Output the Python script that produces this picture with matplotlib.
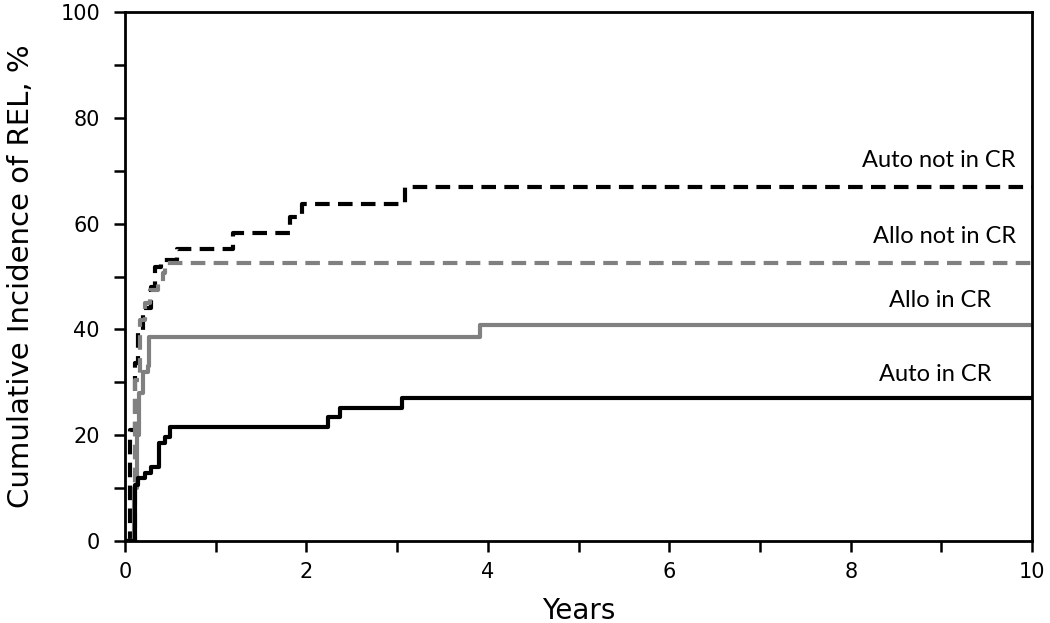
import numpy as np
import matplotlib.pyplot as plt

# step curves (years, cumulative incidence %)
auto_cr_t = [0, 0.06, 0.11, 0.14, 0.22, 0.29, 0.37, 0.44, 0.50, 2.24, 2.37, 3.05, 10]
auto_cr_y = [0, 0, 10.6, 11.9, 12.8, 14.0, 18.5, 19.7, 21.6, 23.5, 25.1, 27.0, 27.0]

allo_cr_t = [0, 0.08, 0.10, 0.13, 0.16, 0.20, 0.25, 0.27, 3.91, 10]
allo_cr_y = [0, 0, 10, 20, 28, 32, 33, 38.6, 40.8, 40.8]

allo_ncr_t = [0, 0.05, 0.11, 0.165, 0.22, 0.28, 0.36, 0.42, 0.44, 10]
allo_ncr_y = [0, 0, 30.4, 41.8, 45.0, 47.4, 48.7, 50.6, 52.5, 52.5]

auto_ncr_t = [0, 0.02, 0.055, 0.11, 0.14, 0.20, 0.29, 0.33, 0.40, 0.57, 1.19, 1.82, 1.95, 3.09, 10]
auto_ncr_y = [0, 0, 21.0, 33.6, 39.8, 44.0, 48.0, 51.9, 53.1, 55.3, 58.2, 61.3, 63.8, 66.9, 66.9]

labels = ["Auto not in CR", "Allo not in CR", "Allo in CR", "Auto in CR"]

fig = plt.figure(figsize=(10.5, 6.23), dpi=100)
ax = fig.add_axes([0.119, 0.1316, 0.864, 0.849])

ax.step(auto_ncr_t, auto_ncr_y, where='post', color='black', lw=3, ls=(0, (3.5, 2)))
ax.step(allo_ncr_t, allo_ncr_y, where='post', color='#808080', lw=3, ls=(0, (3.5, 2)))
ax.step(allo_cr_t, allo_cr_y, where='post', color='#808080', lw=3)
ax.step(auto_cr_t, auto_cr_y, where='post', color='black', lw=3)

# curve labels at the right
lab_pos = [(9.82, 72), (9.82, 57.5), (9.55, 45.5), (9.55, 31.5)]
for txt, (x, y) in zip(labels, lab_pos):
    ax.text(x, y, txt, ha='right', va='center', fontsize=17, family='Lato')

ax.set_xlim(0, 10)
ax.set_ylim(0, 100)
ax.set_xticks(np.arange(0, 11, 2))
ax.set_xticks(np.arange(0, 11, 1), minor=True)
ax.set_yticks(np.arange(0, 101, 20))
ax.set_yticks(np.arange(0, 101, 10), minor=True)
ax.tick_params(which='both', direction='out', width=1.8, length=8, labelsize=15)
ax.tick_params(axis='x', which='both', pad=7)
ax.tick_params(axis='y', which='both', pad=10)
for s in ax.spines.values():
    s.set_linewidth(2)

ax.set_xlabel("Years", fontsize=20, labelpad=11)
ax.set_ylabel("Cumulative Incidence of REL, %", fontsize=21, labelpad=18)

fig.savefig("out.png", dpi=100)
